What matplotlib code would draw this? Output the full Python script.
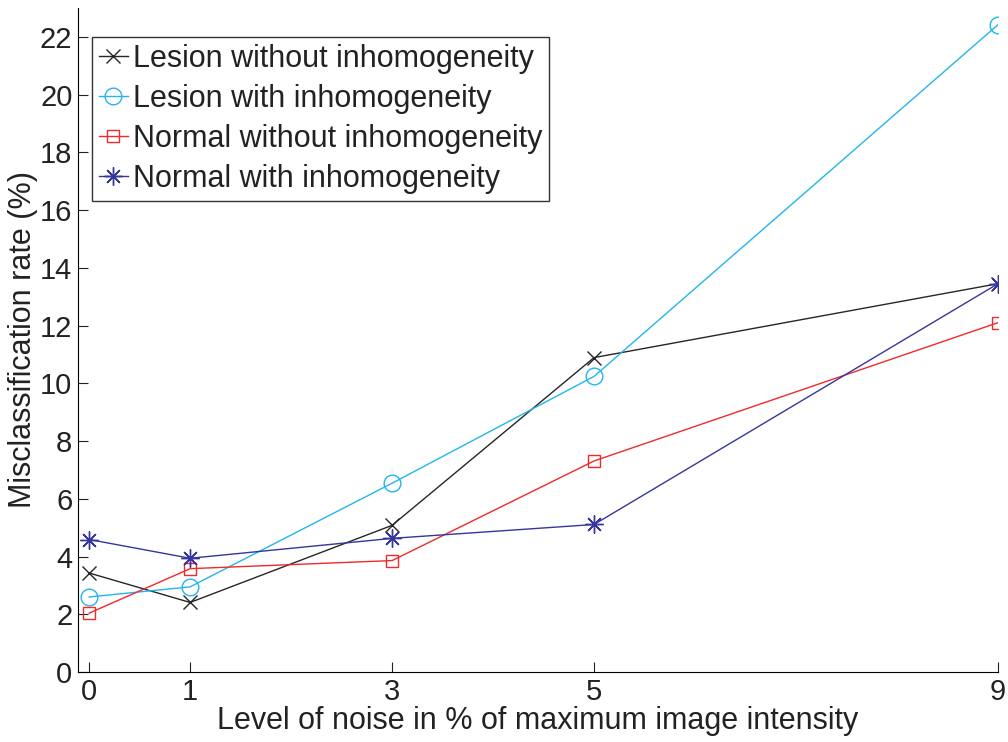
import matplotlib
matplotlib.use("Agg")
import matplotlib.pyplot as plt

plt.rcParams['font.family'] = ['Liberation Sans', 'DejaVu Sans']

# Data
noise = [0, 1, 3, 5, 9]
lesion_without = [3.43, 2.41, 5.08, 10.89, 13.45]
lesion_with = [2.60, 2.95, 6.54, 10.24, 22.42]
normal_without = [2.04, 3.58, 3.86, 7.31, 12.10]
normal_with = [4.59, 3.94, 4.63, 5.11, 13.45]

labels = ['Lesion without inhomogeneity', 'Lesion with inhomogeneity',
          'Normal without inhomogeneity', 'Normal with inhomogeneity']
yticks = list(range(0, 23, 2))

fig = plt.figure(figsize=(10.08, 7.42), dpi=100)
ax = fig.add_axes([0.0774, 0.0943, 0.9127, 0.895])

asterisk = (8, 2, 0)  # matlab-like '*' marker
ax.plot(noise, lesion_without, '-x', color='#262626', lw=1.0, ms=10, mew=1.0, label=labels[0])
ax.plot(noise, lesion_with, '-o', color='#22b5ee', lw=1.0, ms=12, mew=1.0, mfc='none', label=labels[1])
ax.plot(noise, normal_without, '-s', color='#ee2a2a', lw=1.0, ms=9, mew=1.0, mfc='none', label=labels[2])
ax.plot(noise, normal_with, '-', marker=asterisk, color='#36369c', lw=1.0, ms=13, mew=1.0, label=labels[3])

ax.set_xlim(-0.11, 9.0)
ax.set_ylim(0, 23)
ax.set_xticks(noise)
ax.set_yticks(yticks)
ax.tick_params(direction='in', length=7, width=0.8, labelsize=21, pad=4, colors='#222222')
ax.spines['top'].set_visible(False)
ax.spines['right'].set_visible(False)

ax.set_xlabel('Level of noise in % of maximum image intensity', fontsize=22, labelpad=0.5, color='#222222')
ax.set_ylabel('Misclassification rate (%)', fontsize=22, color='#222222')
ax.yaxis.set_label_coords(-0.044, 0.5)

leg = ax.legend(loc='upper left', bbox_to_anchor=(0.0152, 0.9563), fontsize=22,
                frameon=True, fancybox=False, handlelength=0.95, handletextpad=0.16,
                borderpad=0.22, labelspacing=0.33, borderaxespad=0.0, numpoints=1)
leg.get_frame().set_edgecolor('black')
leg.get_frame().set_linewidth(1.0)
for t in leg.get_texts():
    t.set_color('#222222')

fig.savefig('out.png', dpi=100)
